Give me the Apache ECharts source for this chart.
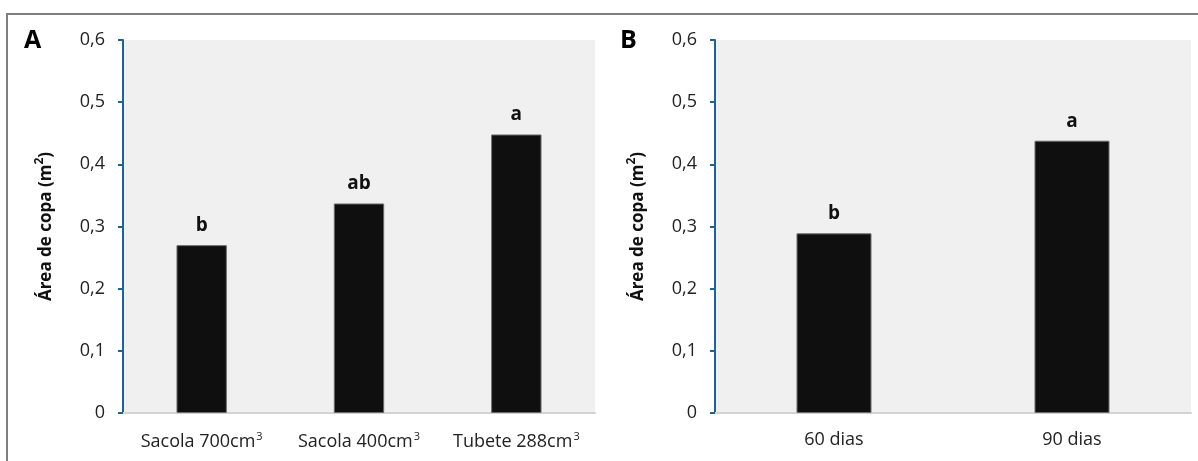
<!DOCTYPE html>
<html>
<head>
<meta charset="utf-8">
<script src="https://cdn.jsdelivr.net/npm/echarts@6/dist/echarts.min.js"></script>
<style>
html,body{margin:0;padding:0;background:#fff;}
#chart{width:1198px;height:461px;}
</style>
</head>
<body>
<div id="chart"></div>
<script>
const categoriesA = ['Sacola 700cm³', 'Sacola 400cm³', 'Tubete 288cm³'];
const valuesA = [0.27, 0.337, 0.448];
const lettersA = ['b', 'ab', 'a'];

const categoriesB = ['60 dias', '90 dias'];
const valuesB = [0.289, 0.438];
const lettersB = ['b', 'a'];

const yTicks = [0, 0.1, 0.2, 0.3, 0.4, 0.5, 0.6];
const yTitle = 'Área de copa (m²)';
const panelLabels = ['A', 'B'];

const FONT = '"Open Sans", "Liberation Sans", Arial, sans-serif';

function catFormatter(v) {
  const i = v.indexOf('³');
  if (i < 0) return '{n|' + v + '}';
  return '{n|' + v.slice(0, i) + '}{s|3}';
}

function yTitleRich(t) {
  return t.replace('²', '{sup|2}');
}

function yAxis(gridIndex) {
  return {
    type: 'value', gridIndex: gridIndex,
    min: yTicks[0], max: yTicks[yTicks.length - 1], interval: 0.1,
    axisLine: { show: true, lineStyle: { color: '#1f6391', width: 2 } },
    axisTick: { show: true, length: 5, lineStyle: { color: '#1f6391', width: 2 } },
    splitLine: { show: false },
    axisLabel: {
      fontSize: 18, color: '#222', fontFamily: FONT, margin: 18,
      formatter: v => (Math.round(v * 10) / 10).toString().replace('.', ',')
    },
    name: yTitleRich(yTitle),
    nameLocation: 'middle', nameGap: 68,
    nameTextStyle: {
      fontSize: 17, fontWeight: 'bold', color: '#111', fontFamily: FONT,
      rich: { sup: { fontSize: 12, fontWeight: 'bold', color: '#111', fontFamily: FONT, verticalAlign: 'bottom', lineHeight: 10, padding: [0, 0, 9, 0] } }
    }
  };
}

function xAxis(gridIndex, cats) {
  return {
    type: 'category', gridIndex: gridIndex, data: cats,
    axisLine: { show: true, lineStyle: { color: '#d3d3d3', width: 2 } },
    axisTick: { show: false },
    axisLabel: {
      margin: 18, formatter: catFormatter,
      rich: {
        n: { fontSize: 18, color: '#222', fontFamily: FONT },
        s: { fontSize: 11, color: '#222', fontFamily: FONT, verticalAlign: 'bottom', padding: [0, 0, 11, 1] }
      }
    }
  };
}

function barSeries(idx, vals, letters, width) {
  return {
    type: 'bar', xAxisIndex: idx, yAxisIndex: idx,
    data: vals, barWidth: width,
    itemStyle: { color: '#0f0f0f', borderColor: '#6a6a6a', borderWidth: 1 },
    label: {
      show: true, position: 'top', distance: 10,
      formatter: p => letters[p.dataIndex],
      fontSize: 19, fontWeight: 'bold', color: '#111', fontFamily: FONT
    },
    silent: true
  };
}

const chart = echarts.init(document.getElementById('chart'), null, { renderer: 'canvas' });
chart.setOption({
  animation: false,
  backgroundColor: '#ffffff',
  grid: [
    { left: 123, top: 40, width: 472, height: 373, show: true, backgroundColor: '#f0f0f0', borderWidth: 0 },
    { left: 715, top: 40, width: 476, height: 373, show: true, backgroundColor: '#f0f0f0', borderWidth: 0 }
  ],
  xAxis: [xAxis(0, categoriesA), xAxis(1, categoriesB)],
  yAxis: [yAxis(0), yAxis(1)],
  series: [barSeries(0, valuesA, lettersA, '32%'), barSeries(1, valuesB, lettersB, '31.5%')],
  graphic: [
    { type: 'rect', shape: { x: 7, y: 14, width: 1300, height: 600 }, style: { fill: 'none', stroke: '#7f7f7f', lineWidth: 2 }, z: 100, silent: true },
    { type: 'text', left: 24, top: 28, style: { text: panelLabels[0], font: 'bold 25px ' + FONT, fill: '#000' } },
    { type: 'text', left: 620, top: 28, style: { text: panelLabels[1], font: 'bold 25px ' + FONT, fill: '#000' } }
  ]
});
</script>
</body>
</html>
